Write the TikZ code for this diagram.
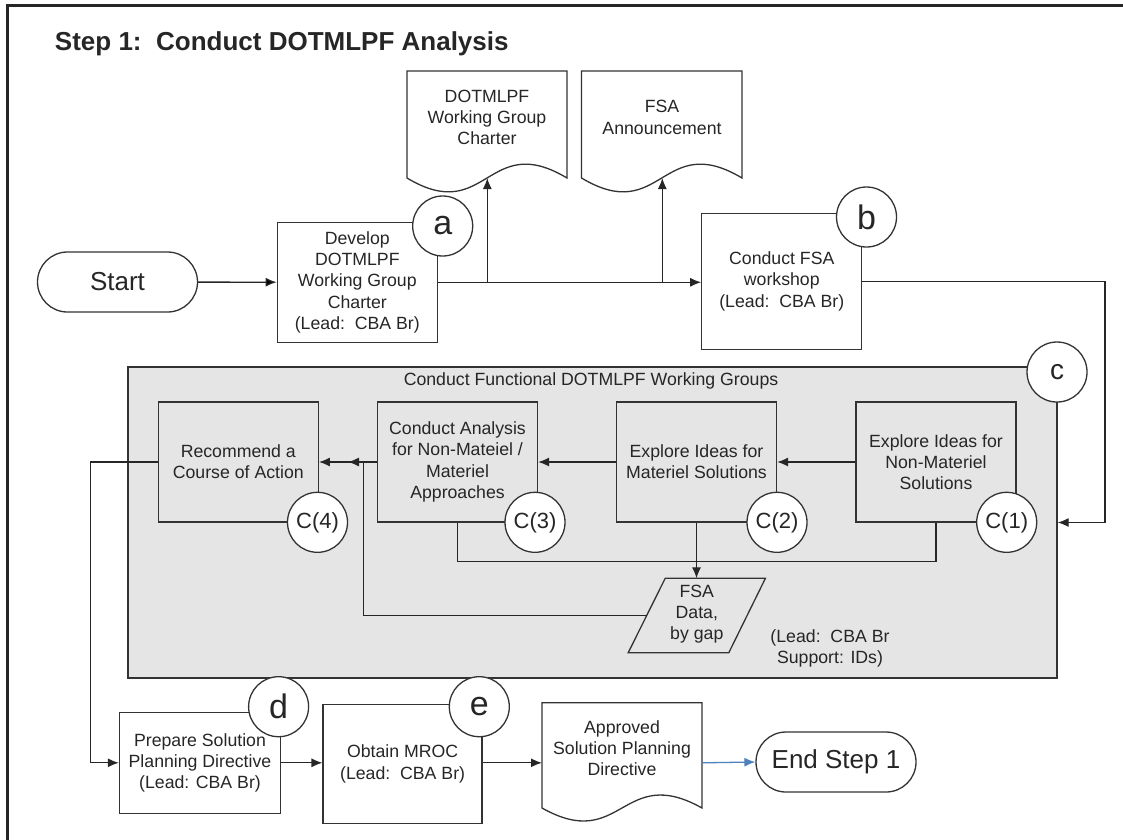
\documentclass[tikz,border=0pt]{standalone}
\usepackage{fontspec}
\setmainfont{Liberation Sans}
\usetikzlibrary{arrows.meta}

\begin{document}
\begin{tikzpicture}[x=1pt,y=-1pt,>={Latex[length=11pt,width=9pt]},line width=1.3pt,
  font=\fontsize{17.7}{21.3}\selectfont,text=black!85,every node/.style={align=center}]

\tikzstyle{task}=[draw=black!80,align=center,minimum width=160pt,minimum height=120pt,inner sep=0pt]
\tikzstyle{term}=[draw=black!80,fill=white,rounded corners=30pt,minimum width=160pt,minimum height=60pt,font=\fontsize{26}{26}\selectfont]
\tikzstyle{tag}=[circle,draw=black!80,fill=white,minimum size=60pt,inner sep=0pt,font=\fontsize{34}{34}\selectfont]
\tikzstyle{subtag}=[tag,font=\fontsize{22}{22}\selectfont]
\tikzstyle{doc}=[draw=black!80,fill=white]
\tikzstyle{group}=[draw=black!80,fill=black!10,inner sep=0pt]
\tikzstyle{flow}=[draw=black!85,->]

\useasboundingbox (0,0) rectangle (1123,839);

    % frame and heading
    \draw[line width=2.4pt,black!85] (7.5,850) -- (7.5,5.5) -- (1135,5.5);
    \node[anchor=base west,font=\bfseries\fontsize{26}{26}\selectfont] (title) at (51,50) {Step 1:\ \ Conduct DOTMLPF Analysis};

    % working group area
    \node[group,minimum width=929pt,minimum height=311pt] (cfwg) at (592.5,522.5) {};
    \node (cfwgtitle) at (591,381) {Conduct Functional DOTMLPF Working Groups};

    % documents
    \draw[doc] (407,178) -- (407,71) -- (567,71) -- (567,178) .. controls (487,130) and (487,226) .. (407,178);
    \draw[doc] (581.5,178) -- (581.5,71) -- (742,71) -- (742,178) .. controls (661.75,130) and (661.75,226) .. (581.5,178);
    \draw[doc] (542,808) -- (542,702.7) -- (702,702.7) -- (702,808) .. controls (622,763) and (622,853) .. (542,808);
    \draw[doc,fill=none] (665.2,578.3) -- (765.4,578.3) -- (728.8,652.7) -- (628.2,652.7) -- cycle;

    \node (dwgc) at (487,117.5) {DOTMLPF\\Working Group\\Charter};
    \node (fsaa) at (662,117.5) {FSA\\Announcement};
    \node (aspd) at (622,748) {Approved\\Solution Planning\\Directive};
    \node (fsad) at (696.8,614) {FSA\\Data,\\by gap};
    \node (lead) at (830,648.3) {(Lead:\ \ CBA Br\\Support: IDs)};

    \coordinate (dwgcin) at (487.3,178);
    \coordinate (fsaain) at (662.3,178);
    \coordinate (aspdin) at (542,762.8);
    \coordinate (aspdout) at (702,762.8);
    \coordinate (fsadin) at (696.5,578.3);
    \coordinate (fsadout) at (646.7,615.5);

    % steps
    \node[term] (start) at (117.5,282) {Start};
    \node[task] (develop) at (357.3,282.3) {Develop\\DOTMLPF\\Working Group\\Charter\\(Lead:\ \ CBA Br)};
    \node[task,minimum height=136pt] (fsaws) at (781.8,281.3) {Conduct FSA\\workshop\\(Lead:\ \ CBA Br)};

    \node[task] (recom) at (238.3,462) {Recommend a\\Course of Action};
    \node[task] (anal) at (457.5,462) {Conduct Analysis\\for Non-Mateiel /\\Materiel\\Approaches};
    \node[task] (mat) at (696.5,462) {Explore Ideas for\\Materiel Solutions};
    \node[task] (nonmat) at (936,462) {Explore Ideas for\\Non-Materiel\\Solutions};

    \node[task,minimum width=161pt,minimum height=101pt] (prep) at (200,762.8) {Prepare Solution\\Planning Directive\\(Lead: CBA Br)};
    \node[task,minimum width=159pt,minimum height=119pt] (obtain) at (402.6,763.8) {Obtain MROC\\(Lead:\ \ CBA Br)};
    \node[term] (endst) at (836,762) {End Step 1};

    % connectors
    \path[flow] (start) edge (develop);
    \draw[flow] (develop.east) -- (develop.east -| fsaws.west);
    \draw[flow] (develop.east -| dwgcin) -- (dwgcin);
    \draw[flow] (develop.east -| fsaain) -- (fsaain);
    \draw[flow] (fsaws.east) -- (1105,281.3) |- (cfwg.east);

    \draw[flow] (nonmat.west) -- (mat.east);
    \draw[flow] (mat.west) -- (anal.east);
    \draw[flow] (anal.west) -- (recom.east);
    \draw[draw=black!85] (anal.south) -- (457.5,561.7) -| (nonmat.south);
    \draw[flow] (mat.south) -- (fsadin);
    \draw[flow] (fsadout) -| (363.3,462) -- (348,462);

    \draw[flow] (recom.west) -- (90.4,462) |- (prep.west);
    \draw[flow] (prep.east) -- (prep.east -| obtain.west);
    \draw[flow] (obtain.east |- aspdin) -- (aspdin);
    \draw[->,draw={rgb,255:red,79;green,129;blue,189}] (aspdout) -- (endst.west);

    % markers
    \node[tag] (taga) at (442.7,226) {a};
    \node[tag] (tagb) at (866.5,217) {b};
    \node[tag,font=\fontsize{28}{28}\selectfont] (tagc) at (1057,372) {c};
    \node[subtag] (tagc1) at (1006.7,522.3) {C(1)};
    \node[subtag] (tagc2) at (777,522.3) {C(2)};
    \node[subtag] (tagc3) at (535,522.3) {C(3)};
    \node[subtag] (tagc4) at (317.5,522.3) {C(4)};
    \node[tag] (tagd) at (278.6,706.7) {d};
    \node[tag] (tage) at (479.3,706.7) {e};

\end{tikzpicture}
\end{document}
